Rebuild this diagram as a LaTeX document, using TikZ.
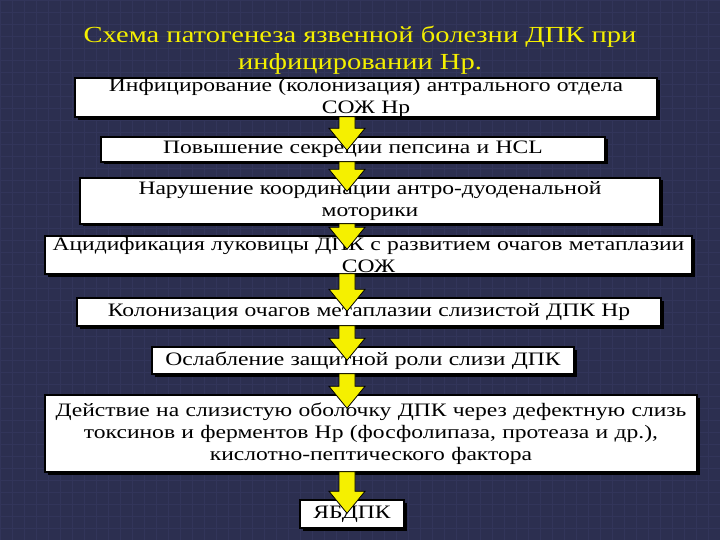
\documentclass[tikz,border=0pt]{standalone}
\usepackage{fontspec}
\setmainfont[FakeStretch=1.24]{Liberation Serif}
\usetikzlibrary{calc,shadows}
\definecolor{bg}{HTML}{2C2F50}
\definecolor{gridc}{HTML}{32355A}
\definecolor{yel}{HTML}{F5F000}
\tikzset{
  box/.style={draw=black, line width=1.4pt, fill=white, align=center, inner xsep=2pt, inner ysep=0pt,
    font=\fontsize{19}{22}\selectfont,
    drop shadow={shadow xshift=2.5pt, shadow yshift=-2.5pt, fill=black, opacity=1}},
  yarr/.style={fill=yel, draw=black, line width=0.8pt, line join=miter},
  ttl/.style={text=yel, align=center, font=\fontsize{23}{27}\selectfont}
}
\newcommand{\bx}[6]{\node[box, text width=#4pt-4pt, minimum width=#4pt, minimum height=#5pt] (#1) at (#2,#3) {#6};}
\newcommand{\yar}[2]{\draw[yarr] let \p1=(#1.south), \p2=(#2.north) in
  (339pt,\y1+1pt) -- (355pt,\y1+1pt) -- (355pt,\y2+8pt) -- (365pt,\y2+8pt) -- (347pt,\y2-14pt)
  -- (329pt,\y2+8pt) -- (339pt,\y2+8pt) -- cycle;}
\begin{document}
\begin{tikzpicture}[x=1pt,y=-1pt]
\fill[bg] (0,0) rectangle (720,540);
\useasboundingbox (0,0) rectangle (720,540);
\foreach \i in {0,12,...,720} \draw[gridc, line width=0.4pt] (\i,0) -- (\i,540);
\foreach \j in {0,12,...,540} \draw[gridc, line width=0.4pt] (0,\j) -- (720,\j);
\node[ttl] (title) at (360,50) {Схема патогенеза язвенной болезни ДПК при\\инфицировании Нр.};
\bx{b1}{366}{97.5}{582}{39}{Инфицирование (колонизация) антрального отдела\\СОЖ Нр}
\bx{b2}{353}{149.5}{504}{25}{Повышение секреции пепсина и HCL}
\bx{b3}{370}{201}{580}{46}{Нарушение координации антро-дуоденальной\\моторики}
\bx{b4}{368.5}{255}{647}{38}{Ацидификация луковицы ДПК с развитием очагов метаплазии\\СОЖ}
\bx{b5}{369}{312}{584}{28}{Колонизация очагов метаплазии слизистой ДПК Нр}
\bx{b6}{363}{360.5}{422}{27}{Ослабление защитной роли слизи ДПК}
\bx{b7}{371}{433.5}{652}{77}{Действие на слизистую оболочку ДПК через дефектную слизь\\токсинов и ферментов Нр (фосфолипаза, протеаза и др.),\\кислотно-пептического фактора}
\bx{b8}{352}{514}{104}{28}{ЯБДПК}
\yar{b1}{b2}
\yar{b2}{b3}
\yar{b3}{b4}
\yar{b4}{b5}
\yar{b5}{b6}
\yar{b6}{b7}
\yar{b7}{b8}
\end{tikzpicture}
\end{document}
